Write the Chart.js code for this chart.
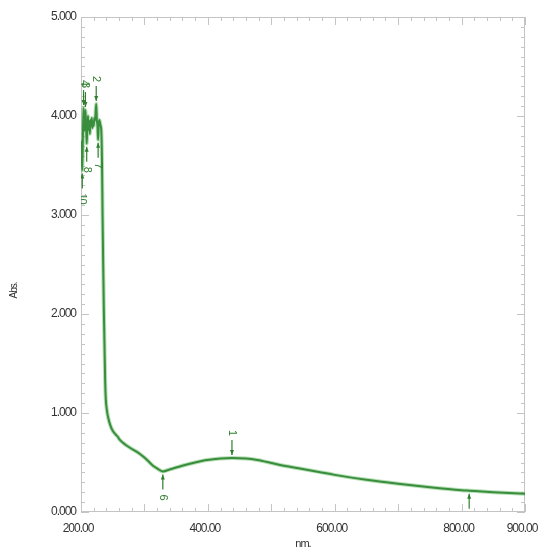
<!DOCTYPE html>
<html>
<head>
<meta charset="utf-8">
<script src="https://cdn.jsdelivr.net/npm/chart.js@4/dist/chart.umd.min.js"></script>
<style>
  html, body { margin: 0; padding: 0; background: #fff; }
  #wrap { width: 538px; height: 552px; }
</style>
</head>
<body>
<div id="wrap"><canvas id="spectrum"></canvas></div>
<script>
// Wavelength (nm) and absorbance
const wavelengths = [200, 201, 202, 203, 204, 205, 206, 207, 208, 209, 210, 211, 212, 213, 214, 215, 216, 217, 218, 219, 220, 221, 222, 224, 225, 226, 227, 228, 229, 230, 231, 232, 233, 234, 235, 236, 237, 238, 239, 241, 243, 246, 250, 255, 258, 261, 270, 282, 290, 298, 305, 313, 320, 329, 340, 361, 380, 399, 420, 438, 460, 478, 500, 514, 545, 575, 600, 650, 700, 750, 800, 812, 850, 900];
const absorbance = [3.75, 3.62, 3.45, 3.80, 4.08, 3.85, 3.90, 4.06, 3.90, 3.72, 3.88, 4.00, 3.86, 3.95, 3.82, 3.96, 3.90, 3.98, 3.88, 3.94, 3.90, 3.98, 3.95, 4.12, 3.96, 3.90, 3.76, 3.92, 3.96, 3.93, 3.90, 3.85, 3.60, 3.00, 2.50, 2.05, 1.70, 1.35, 1.15, 1.02, 0.95, 0.88, 0.82, 0.78, 0.76, 0.73, 0.68, 0.63, 0.60, 0.56, 0.52, 0.47, 0.44, 0.41, 0.43, 0.47, 0.50, 0.525, 0.54, 0.545, 0.54, 0.525, 0.495, 0.475, 0.44, 0.405, 0.375, 0.325, 0.285, 0.25, 0.22, 0.215, 0.20, 0.185];

// Peak / valley picks (numbered as in the instrument printout)
const peakNm = [438, 224, 207, 204];
const peakLabels = ['1', '2', '3', '4'];
const valleyNm = [812, 329, 227, 209, 202];
const valleyLabels = ['5', '6', '7', '8', '10'];

// Axis ticks
const xTickLabels = [200, 400, 600, 800, 900];
const yTickLabels = [0, 1, 2, 3, 4, 5];

const points = wavelengths.map((nm, i) => ({ x: nm, y: absorbance[i] }));
const absAt = nm => absorbance[wavelengths.indexOf(nm)];

const FONT = "'Liberation Sans Narrow', 'Liberation Sans', Arial, sans-serif";
const FRAME = '#c4c4c4';
const PICK = '#2f7f2f';
const TEXT = '#333';

// The printout uses a narrow face; tighten the spacing so labels fit like it
const narrowText = {
    id: 'narrowText',
    beforeUpdate(chart) { chart.ctx.letterSpacing = '-1px'; },
    beforeDraw(chart) { chart.ctx.letterSpacing = '-1px'; }
};

// Frame with inward minor/major ticks on all four sides
const framePlugin = {
    id: 'frame',
    beforeDatasetsDraw(chart) {
        const { ctx, chartArea: a, scales: { x, y } } = chart;
        ctx.save();
        ctx.strokeStyle = FRAME;
        ctx.lineWidth = 1;
        ctx.strokeRect(a.left + 0.5, a.top + 0.5, a.right - a.left - 1, a.bottom - a.top - 1);
        ctx.beginPath();
        for (let v = 200; v <= 900; v += 20) {
            const px = Math.round(x.getPixelForValue(v)) + 0.5;
            const len = v % 100 === 0 ? 8 : 4;
            ctx.moveTo(px, a.bottom); ctx.lineTo(px, a.bottom - len);
            ctx.moveTo(px, a.top); ctx.lineTo(px, a.top + len);
        }
        for (let i = 0; i <= 50; i++) {
            const py = Math.round(y.getPixelForValue(i / 10)) + 0.5;
            const len = i % 10 === 0 ? 8 : 4;
            ctx.moveTo(a.left, py); ctx.lineTo(a.left + len, py);
            ctx.moveTo(a.right, py); ctx.lineTo(a.right - len, py);
        }
        ctx.stroke();
        ctx.restore();
    }
};

// Peak-pick arrows with rotated numbers
function drawPick(ctx, px, py, dir, label) {
    // dir = -1 : arrow comes from above (peak), +1 : from below (valley)
    const tip = py + dir * 3;
    const tail = py + dir * 18;
    ctx.beginPath();
    ctx.moveTo(px, tail);
    ctx.lineTo(px, tip);
    ctx.stroke();
    ctx.beginPath();
    ctx.moveTo(px, tip);
    ctx.lineTo(px - 2, tip + dir * 5);
    ctx.lineTo(px + 2, tip + dir * 5);
    ctx.closePath();
    ctx.fill();
    ctx.save();
    ctx.translate(px, py + dir * 23);
    ctx.rotate(Math.PI / 2);
    ctx.textAlign = dir < 0 ? 'right' : 'left';
    ctx.textBaseline = 'middle';
    ctx.fillText(label, 0, 0);
    ctx.restore();
}

const picksPlugin = {
    id: 'picks',
    afterDatasetsDraw(chart) {
        const { ctx, chartArea: a, scales: { x, y } } = chart;
        ctx.save();
        ctx.beginPath();
        ctx.rect(a.left, a.top, a.right - a.left, a.bottom - a.top);
        ctx.clip();
        ctx.strokeStyle = PICK;
        ctx.fillStyle = PICK;
        ctx.lineWidth = 1.2;
        ctx.font = '11px ' + FONT;
        peakNm.forEach((nm, i) => {
            drawPick(ctx, x.getPixelForValue(nm), y.getPixelForValue(absAt(nm)), -1, peakLabels[i]);
        });
        valleyNm.forEach((nm, i) => {
            drawPick(ctx, x.getPixelForValue(nm), y.getPixelForValue(absAt(nm)), 1, valleyLabels[i]);
        });
        ctx.restore();
    }
};

// Y axis title sits a little below the middle in the printout
const yTitlePlugin = {
    id: 'yTitle',
    afterDraw(chart) {
        const { ctx, chartArea: a } = chart;
        ctx.save();
        ctx.translate(14, (a.top + a.bottom) / 2 + 26);
        ctx.rotate(-Math.PI / 2);
        ctx.font = '10px ' + FONT;
        ctx.fillStyle = TEXT;
        ctx.textAlign = 'center';
        ctx.textBaseline = 'middle';
        ctx.fillText('Abs.', 0, 0);
        ctx.restore();
    }
};

new Chart(document.getElementById('spectrum'), {
    type: 'line',
    data: {
        datasets: [
            {
                label: 'glow',
                data: points,
                borderColor: 'rgba(90, 185, 90, 0.45)',
                borderWidth: 4,
                pointRadius: 0,
                cubicInterpolationMode: 'monotone'
            },
            {
                label: 'Abs.',
                data: points,
                borderColor: '#1f6a25',
                borderWidth: 2,
                pointRadius: 0,
                cubicInterpolationMode: 'monotone'
            }
        ]
    },
    options: {
        responsive: true,
        maintainAspectRatio: false,
        animation: false,
        events: [],
        layout: { padding: { top: 17, right: 13, left: 0, bottom: 0 } },
        plugins: {
            legend: { display: false },
            tooltip: { enabled: false }
        },
        scales: {
            x: {
                type: 'linear',
                min: 200,
                max: 900,
                afterBuildTicks: axis => { axis.ticks = xTickLabels.map(v => ({ value: v })); },
                afterFit: axis => {
                    axis.height = 40;
                    axis.paddingLeft = 0;
                    axis.paddingRight = 0;
                },
                grid: { display: false, drawTicks: false },
                border: { display: false },
                ticks: {
                    padding: 9,
                    maxRotation: 0,
                    labelOffset: -3,
                    color: TEXT,
                    font: { family: FONT, size: 12 },
                    callback: v => Number(v).toFixed(2)
                },
                title: {
                    display: true,
                    text: 'nm.',
                    color: TEXT,
                    font: { family: FONT, size: 11 },
                    padding: { top: 0, bottom: 1 }
                }
            },
            y: {
                min: 0,
                max: 5,
                afterBuildTicks: axis => { axis.ticks = yTickLabels.map(v => ({ value: v })); },
                afterFit: axis => {
                    axis.width = 81;
                    axis.paddingTop = 0;
                    axis.paddingBottom = 0;
                },
                grid: { display: false, drawTicks: false },
                border: { display: false },
                ticks: {
                    padding: 5,
                    color: TEXT,
                    font: { family: FONT, size: 12 },
                    callback: v => Number(v).toFixed(3)
                }
            }
        }
    },
    plugins: [narrowText, framePlugin, picksPlugin, yTitlePlugin]
});
</script>
</body>
</html>
